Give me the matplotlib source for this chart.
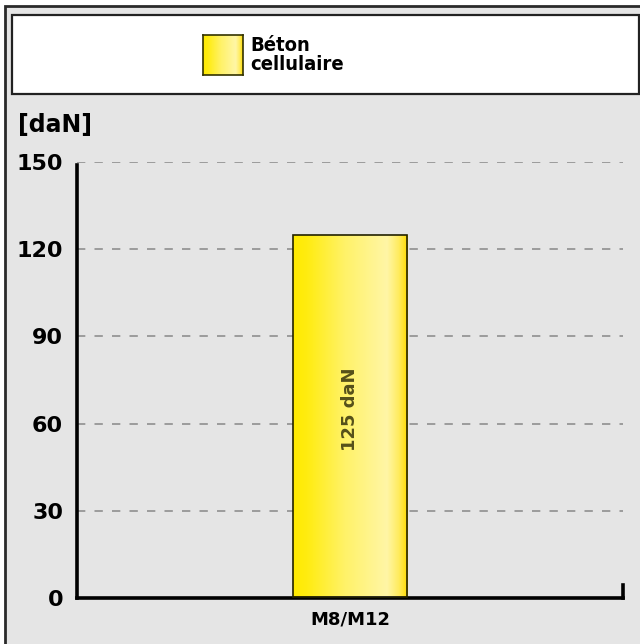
import numpy as np
import matplotlib.pyplot as plt
from matplotlib.patches import Rectangle
from matplotlib.colors import LinearSegmentedColormap

# data
categories = ["M8/M12"]
values = [125]
bar_labels = ["125 daN"]
series_name = "Béton\ncellulaire"
y_ticks = [0, 30, 60, 90, 120, 150]
unit = "[daN]"

# yellow gradient used for the bar and the legend swatch
grad = LinearSegmentedColormap.from_list(
    "beton", [(0.0, "#ffea00"), (0.12, "#ffec10"), (0.45, "#fff268"),
              (0.82, "#fff6a6"), (0.92, "#ffec60"), (1.0, "#ffdc00")])
ramp = np.linspace(0, 1, 256).reshape(1, -1)

W, H = 640, 644
fig = plt.figure(figsize=(W / 100, H / 100), dpi=100)
fig.patch.set_facecolor("white")

def px(x0, y0, x1, y1):
    # pixel box (top-left origin) -> figure fraction rect
    return [x0 / W, 1 - y1 / H, (x1 - x0) / W, (y1 - y0) / H]

# outer grey panel with dark frame
r = px(5, 6, 660, 660)
fig.patches.append(Rectangle((r[0], r[1]), r[2], r[3], transform=fig.transFigure,
                             facecolor="#e5e5e5", edgecolor="#2a2a2a", lw=2, zorder=-2))

# legend box
r = px(12, 15, 639, 94)
fig.patches.append(Rectangle((r[0], r[1]), r[2], r[3], transform=fig.transFigure,
                             facecolor="white", edgecolor="#222222", lw=1.6, zorder=-1))
lax = fig.add_axes(px(203, 35, 243, 75))
lax.set_zorder(5)
lax.imshow(ramp, cmap=grad, aspect="auto", extent=(0, 1, 0, 1))
lax.set_xticks([])
lax.set_yticks([])
for s in lax.spines.values():
    s.set_color("#333300")
    s.set_linewidth(1.2)
fig.text(250 / W, 1 - 55 / H, series_name, ha="left", va="center",
         fontsize=14.5, fontweight="bold", fontstretch="condensed", linespacing=1.0,
         family="DejaVu Sans", zorder=6)

# main axes
ax = fig.add_axes(px(77, 162, 623, 598))
ax.set_zorder(5)
ax.set_facecolor("none")

x = np.arange(len(categories))
bw = 0.209
bars = ax.bar(x, values, width=bw, color="none", edgecolor="#222200", lw=1.2, zorder=3)
for b, lab in zip(bars, bar_labels):
    bx, by = b.get_x(), b.get_y()
    im = ax.imshow(ramp, cmap=grad, aspect="auto", zorder=2,
                   extent=(bx, bx + b.get_width(), by, by + b.get_height()))
    im.set_clip_path(b)
    ax.text(b.get_x() + b.get_width() / 2, b.get_height() * 0.52, lab,
            rotation=90, ha="center", va="center", color="#55501a",
            fontsize=13, fontweight="bold", zorder=4)
ax.set_xlim(-0.5, 0.5)
ax.set_ylim(0, 150)

ax.set_yticks(y_ticks)
ax.set_yticklabels([str(t) for t in y_ticks], fontsize=16, fontweight="bold")
ax.set_xticks(x)
ax.set_xticklabels(categories, fontsize=13, fontweight="bold")
ax.tick_params(length=0, pad=10)
ax.tick_params(axis="x", pad=9)

for t in y_ticks[1:]:
    ax.axhline(t, color="#8f8f8f", lw=1.2, ls=(0, (5, 5.5)), zorder=1)

ax.spines["top"].set_visible(False)
ax.spines["left"].set_linewidth(2.6)
ax.spines["left"].set_bounds(0, 149)
ax.spines["bottom"].set_linewidth(2.6)
ax.spines["right"].set_linewidth(2.6)
ax.spines["right"].set_bounds(0, 4.5)

fig.text(18 / W, 1 - 125 / H, unit, ha="left", va="center",
         fontsize=17, fontweight="bold", zorder=6)

fig.savefig("out.png", dpi=100)
